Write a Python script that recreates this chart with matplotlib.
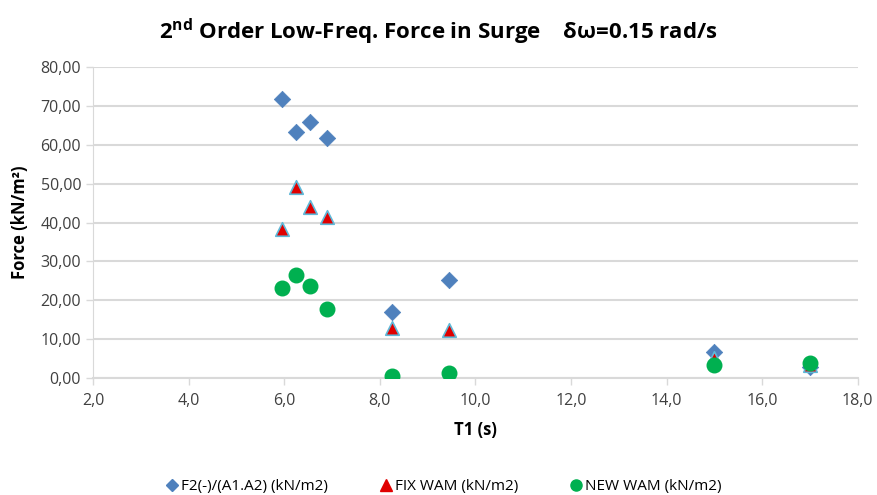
import matplotlib
matplotlib.use("Agg")
import matplotlib.pyplot as plt
from matplotlib.lines import Line2D

plt.rcParams['font.family'] = ['Open Sans', 'DejaVu Sans']
plt.rcParams['mathtext.fontset'] = 'custom'
plt.rcParams['mathtext.rm'] = 'Open Sans'
plt.rcParams['mathtext.bf'] = 'Open Sans:bold'

# Data
t1 = [5.95, 6.25, 6.55, 6.9, 8.25, 9.45, 15.0, 17.0]
f2_a1a2 = [71.8, 63.2, 65.7, 61.6, 17.1, 25.1, 6.7, 2.8]
fix_wam = [38.3, 49.1, 43.9, 41.3, 13.0, 12.4, 5.2, 3.5]
new_wam = [23.1, 26.4, 23.8, 17.8, 0.6, 1.3, 3.3, 3.9]

x_ticks = [2, 4, 6, 8, 10, 12, 14, 16, 18]
y_ticks = [0, 10, 20, 30, 40, 50, 60, 70, 80]

fig = plt.figure(figsize=(8.77, 4.95), dpi=100)
ax = fig.add_axes([0.106, 0.236, 0.872, 0.629])

grid_c = '#d9d9d9'
ax.scatter(t1, f2_a1a2, marker='D', s=70, color='#4f81bd', edgecolors='#4f81bd', linewidths=0.5, zorder=3,
           label='F2(-)/(A1.A2) (kN/m2)')
ax.scatter(t1, fix_wam, marker='^', s=95, color='#e00000', edgecolors='#5fb8d8', linewidths=1.2, zorder=4,
           label='FIX WAM (kN/m2)')
ax.scatter(t1, new_wam, marker='o', s=110, color='#00b050', edgecolors='#00b050', zorder=5,
           label='NEW WAM (kN/m2)')

ax.set_xlim(2, 18)
ax.set_ylim(0, 80)
ax.set_xticks(x_ticks)
ax.set_yticks(y_ticks)
ax.set_xticklabels([f"{v:.1f}".replace('.', ',') for v in x_ticks], fontsize=11.5, color='#404040')
ax.set_yticklabels([f"{v:.2f}".replace('.', ',') for v in y_ticks], fontsize=11.5, color='#404040')
ax.yaxis.grid(True, color=grid_c, linewidth=1.5)
ax.set_axisbelow(True)
for s in ['top', 'right']:
    ax.spines[s].set_visible(False)
ax.spines['left'].set_color(grid_c)
ax.spines['bottom'].set_color(grid_c)
ax.spines['bottom'].set_linewidth(1.5)
ax.tick_params(axis='both', color=grid_c, length=5, width=1)
ax.tick_params(axis='x', pad=6)

ax.set_xlabel('T1 (s)', fontsize=12, fontweight='bold', labelpad=8)
ax.set_ylabel('Force (kN/m²)', fontsize=12, fontweight='bold', labelpad=8)

fig.text(0.5, 0.935, r'2$^{\mathbf{nd}}$ Order Low-Freq. Force in Surge    δω=0.15 rad/s',
         ha='center', va='center', fontsize=16, fontweight='bold')

handles = [
    Line2D([], [], marker='D', linestyle='none', color='#4f81bd', markersize=6),
    Line2D([], [], marker='^', linestyle='none', color='#e00000', markersize=8),
    Line2D([], [], marker='o', linestyle='none', color='#00b050', markersize=8),
]
fig.legend(handles, ['F2(-)/(A1.A2) (kN/m2)', 'FIX WAM (kN/m2)', 'NEW WAM (kN/m2)'],
           loc='center', bbox_to_anchor=(0.505, 0.017), ncol=3, frameon=False, fontsize=11,
           handletextpad=0.1, columnspacing=3.3, handlelength=1.0)

fig.savefig('out.png', dpi=100)
